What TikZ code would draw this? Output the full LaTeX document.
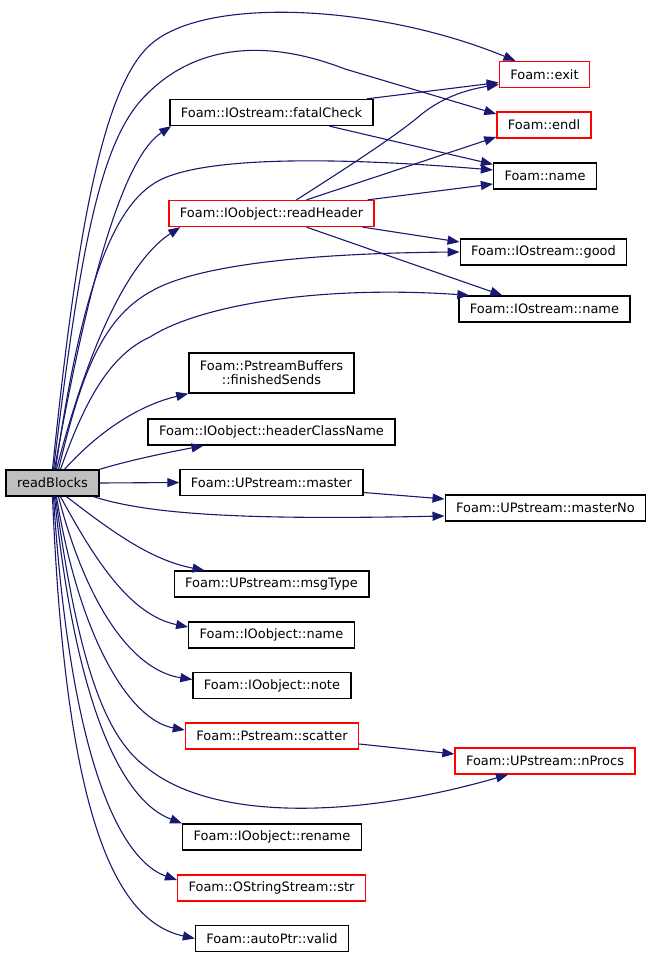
\documentclass[tikz,border=0pt]{standalone}
\usepackage{fontspec}
\setmainfont{DejaVu Sans}
\usetikzlibrary{arrows.meta}
\definecolor{edgeblue}{RGB}{25,25,112}
\begin{document}
\begin{tikzpicture}[x=1bp,y=-1bp,
        fn/.style={draw=black,fill=white,line width=1.3bp,minimum height=26bp,inner xsep=11bp,inner ysep=0pt,font=\fontsize{13}{14}\selectfont},
        fnred/.style={fn,draw=red},
        call/.style={edgeblue,line width=1.1bp,-{Triangle[length=12bp,width=9bp]}}]
        \useasboundingbox (0,0) rectangle (651,958);
        \node[fn,fill=gray!50] (rb) at (52.5,483) {readBlocks};
        % middle column
        \node[fn] (fatal) at (271.5,112.5) {Foam::IOstream::fatalCheck};
        \node[fnred] (readhdr) at (271.5,213.5) {Foam::IOobject::readHeader};
        \node[fn,align=center,minimum height=40bp] (finsend) at (271.5,373) {Foam::PstreamBuffers\\::finishedSends};
        \node[fn] (hcname) at (271.5,432) {Foam::IOobject::headerClassName};
        \node[fn] (master) at (271.5,482.5) {Foam::UPstream::master};
        \node[fn] (msgtype) at (271.5,584) {Foam::UPstream::msgType};
        \node[fn] (ioname) at (271.5,635) {Foam::IOobject::name};
        \node[fn] (note) at (272,685.5) {Foam::IOobject::note};
        \node[fnred] (scatter) at (272,736) {Foam::Pstream::scatter};
        \node[fn] (rename) at (272,837) {Foam::IOobject::rename};
        \node[fnred] (str) at (271.5,888) {Foam::OStringStream::str};
        \node[fn] (valid) at (272,938.5) {Foam::autoPtr::valid};
        % right column
        \node[fnred] (exit) at (544.5,74.5) {Foam::exit};
        \node[fnred] (endl) at (544,125) {Foam::endl};
        \node[fn] (fname) at (545,176) {Foam::name};
        \node[fn] (good) at (543.5,252) {Foam::IOstream::good};
        \node[fn] (isname) at (544.5,309) {Foam::IOstream::name};
        \node[fn] (masterno) at (545.5,508) {Foam::UPstream::masterNo};
        \node[fnred] (nprocs) at (545,761) {Foam::UPstream::nProcs};
        % calls from readBlocks, upwards
        \draw[call] (rb.north) .. controls (75,250) and (100,90) .. (150,45) .. controls (205,-5) and (380,5) .. ([xshift=-29bp]exit.north);
        \draw[call] ([xshift=1bp]rb.north) .. controls (80,250) and (100,140) .. (146,95) .. controls (195,45) and (265,38) .. (345,69) -- ([yshift=11bp]endl.west);
        \draw[call] ([xshift=2bp]rb.north) .. controls (85,300) and (120,160) .. ([xshift=2bp]fatal.south west);
        \draw[call] ([xshift=3bp]rb.north) .. controls (80,300) and (110,205) .. (160,180) .. controls (210,155) and (350,158) .. ([yshift=6bp]fname.west);
        \draw[call] ([xshift=4bp]rb.north) .. controls (90,340) and (130,260) .. ([xshift=12bp]readhdr.south west);
        \draw[call] ([xshift=6bp]rb.north) .. controls (80,380) and (100,320) .. (150,292) .. controls (200,262) and (330,253) .. (good.west);
        \draw[call] ([xshift=8bp]rb.north) .. controls (85,400) and (110,355) .. (150,337) .. controls (200,305) and (320,285) .. ([xshift=11bp]isname.north west);
        \draw[call] ([xshift=12bp]rb.north) .. controls (100,430) and (140,405) .. (finsend.south west);
        \draw[call] (rb.north east) .. controls (130,460) and (170,452) .. ([xshift=56bp]hcname.south west);
        \draw[call] (rb.east) -- (master.west);
        % calls from readBlocks, downwards
        \draw[call] ([xshift=-6bp]rb.south east) .. controls (150,515) and (250,520) .. ([yshift=-8bp]masterno.west);
        \draw[call] ([xshift=14bp]rb.south) .. controls (110,530) and (150,560) .. ([xshift=31bp]msgtype.north west);
        \draw[call] ([xshift=8bp]rb.south) .. controls (95,560) and (130,615) .. ([yshift=8bp]ioname.west);
        \draw[call] ([xshift=6bp]rb.south) .. controls (85,600) and (130,670) .. ([yshift=6bp]note.west);
        \draw[call] ([xshift=4bp]rb.south) .. controls (80,640) and (130,720) .. ([yshift=6bp]scatter.west);
        \draw[call] ([xshift=3bp]rb.south) .. controls (80,680) and (110,740) .. (146,767) .. controls (210,820) and (350,820) .. ([xshift=-37bp]nprocs.south);
        \draw[call] ([xshift=2bp]rb.south) .. controls (75,700) and (120,800) .. (rename.north west);
        \draw[call] ([xshift=1bp]rb.south) .. controls (70,760) and (120,860) .. ([yshift=8bp]str.west);
        \draw[call] (rb.south) .. controls (65,800) and (110,920) .. (valid.west);
        % calls between the other functions
        \draw[call] ([xshift=-7bp]fatal.north east) -- ([yshift=-8bp]exit.west);
        \draw[call] ([xshift=58bp]fatal.south) -- ([yshift=-2bp]fname.north west);
        \draw[call] ([xshift=25bp]readhdr.north) .. controls (340,172) and (390,140) .. (417,118) .. controls (440,98) and (465,90) .. ([yshift=-10bp]exit.west);
        \draw[call] ([xshift=35bp]readhdr.north) -- ([yshift=-12bp]endl.west);
        \draw[call] ([xshift=-7bp]readhdr.north east) -- ([yshift=-8bp]fname.west);
        \draw[call] ([xshift=-12bp]readhdr.south east) -- ([yshift=10bp]good.west);
        \draw[call] ([xshift=35bp]readhdr.south) -- ([xshift=44bp]isname.north west);
        \draw[call] ([yshift=-10bp]master.east) -- ([yshift=9bp]masterno.west);
        \draw[call] ([yshift=-8bp]scatter.east) -- ([yshift=7bp]nprocs.west);
\end{tikzpicture}
\end{document}
